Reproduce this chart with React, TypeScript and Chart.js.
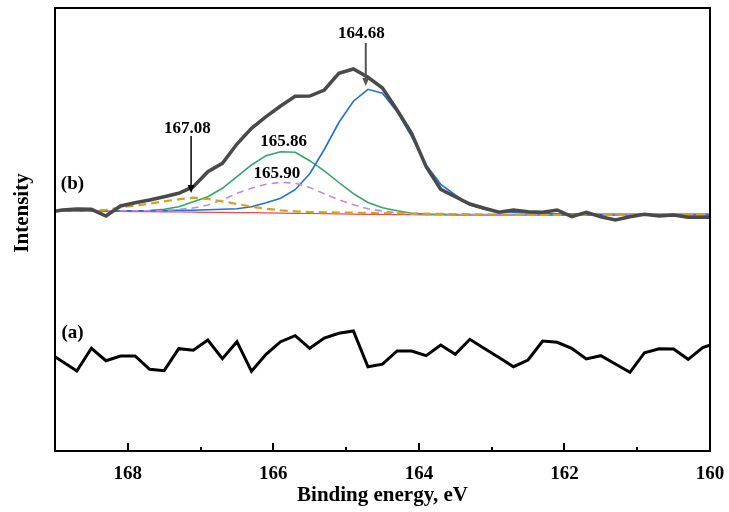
import React, { useEffect, useRef } from 'react';
import { Chart, registerables } from 'chart.js';

Chart.register(...registerables);

// ---------------- data ----------------
const ENERGY = [
  169.1, 168.9, 168.7, 168.5, 168.3, 168.1, 167.9, 167.7, 167.5, 167.3,
  167.1, 166.9, 166.7, 166.5, 166.3, 166.1, 165.9, 165.7, 165.5, 165.3,
  165.1, 164.9, 164.7, 164.5, 164.3, 164.1, 163.9, 163.7, 163.5, 163.3,
  163.1, 162.9, 162.7, 162.5, 162.3, 162.1, 161.9, 161.7, 161.5, 161.3,
  161.1, 160.9, 160.7, 160.5, 160.3, 160.1, 159.9,
];

// spectrum (a)
const SPECTRUM_A = [
  99, 89.5, 80, 102.7, 90.3, 95, 95, 81.7, 80.3, 102.3,
  100.7, 111, 92.3, 109.3, 79.7, 96.7, 109.3, 115.3, 102.7, 113,
  117.7, 120, 84.3, 86.8, 100, 100, 95.3, 106, 96.7, 111.7,
  102.6, 93.5, 84.3, 91, 110, 108.7, 102.7, 92, 95.3, 87,
  78.7, 98.3, 102.3, 102, 91.7, 103.3, 108.5,
];

// spectrum (b) envelope
const SPECTRUM_B = [
  238.5, 241, 242, 241.7, 235, 245, 248.3, 251, 254.3, 257.7,
  264.3, 279.3, 287.7, 307, 322.7, 334.3, 345, 354.7, 355, 361,
  377.7, 382, 373.7, 363, 341, 317.7, 284.3, 261.7, 254.3, 247,
  242.7, 238.7, 241, 239.3, 238.7, 241, 234.3, 238.7, 234.3, 231,
  234.3, 236.7, 235, 236, 233.7, 233.7, 233.7,
];

// fitted component at 164.68 eV
const PEAK_164_68 = [
  240.2, 240.2, 240.2, 240.2, 240.2, 240.2, 240.2, 240.3, 240.4, 240.6,
  240.8, 241.2, 241.7, 242.3, 244.3, 248.3, 252.7, 261.3, 277.3, 301.5,
  328.5, 349.8, 361.7, 357.7, 339.3, 314.3, 286, 266.7, 256, 246,
  241.7, 239.3, 238.7, 238, 237.5, 237.2, 237, 236.9, 236.8, 236.8,
  236.7, 236.7, 236.7, 236.7, 236.7, 236.7, 236.7,
];

// fitted component at 165.86 eV
const PEAK_165_86 = [
  240.2, 240.2, 240.2, 240.2, 240.2, 240.2, 240.2, 240.5, 241.7, 244.3,
  249.3, 254.3, 262.7, 274.3, 286, 295.3, 299.3, 298.7, 290.3, 280.2,
  268.5, 257.3, 248.5, 243.2, 240.2, 237.7, 237, 236.7, 236.5, 236.5,
  236.5, 236.5, 236.5, 236.4, 236.4, 236.4, 236.4, 236.4, 236.4, 236.4,
  236.4, 236.4, 236.4, 236.4, 236.4, 236.4, 236.4,
];

// fitted component at 165.90 eV (dashed)
const PEAK_165_90 = [
  240.2, 240.2, 240.2, 240.2, 240.2, 240.2, 240.2, 240.2, 240.3, 241.7,
  243, 246, 251, 257.7, 262.7, 266.7, 268.7, 267.8, 263.5, 257.2,
  251.3, 246.3, 242.2, 240, 238.2, 236.8, 236.5, 236.3, 236.3, 236.3,
  236.3, 236.3, 236.3, 236.3, 236.3, 236.3, 236.3, 236.3, 236.3, 236.3,
  236.3, 236.3, 236.3, 236.3, 236.3, 236.3, 236.3,
];

// fitted component at 167.08 eV (dashed)
const PEAK_167_08 = [
  239.7, 240.7, 241.3, 241, 241, 243.7, 245.3, 247.3, 249.7, 251.7,
  253.3, 252, 249.7, 247, 244.3, 242.3, 240.7, 239.7, 239, 238.7,
  238.5, 238.3, 238.1, 237.9, 237.7, 237.5, 237.3, 237.1, 236.9, 236.7,
  236.5, 236.4, 236.2, 236.2, 236.2, 236.2, 236.2, 236.2, 236.2, 236.2,
  236.2, 236.2, 236.2, 236.2, 236.2, 236.2, 236.2,
];

// background
const BACKGROUND = [
  240, 239.9, 239.8, 239.7, 239.6, 239.5, 239.4, 239.3, 239.1, 239.0,
  238.9, 238.7, 238.6, 238.4, 238.3, 238.1, 237.9, 237.7, 237.5, 237.3,
  237.1, 236.9, 236.7, 236.5, 236.4, 236.3, 236.1, 236.0, 235.9, 235.9,
  235.8, 235.8, 235.8, 235.8, 235.8, 235.7, 235.7, 235.7, 235.7, 235.7,
  235.7, 235.7, 235.7, 235.7, 235.7, 235.7, 235.7,
];

const X_MIN = 160;
const X_MAX = 169;
const Y_MIN = 0;
const Y_MAX = 443;

const X_TITLE = 'Binding energy, eV';
const Y_TITLE = 'Intensity';

const PEAK_TEXTS = ['164.68', '165.86', '165.90', '167.08'];
const CURVE_TEXTS = ['(a)', '(b)'];

// ---------------- styling ----------------
const FONT = "'Liberation Serif', 'Times New Roman', Times, serif";

const toXY = (arr: number[]) => ENERGY.map((e, i) => ({ x: e, y: arr[i] }));

const decorPlugin = {
  id: 'xpsDecor',
  afterDatasetsDraw(chart: any) {
    const { ctx, chartArea: a, scales } = chart;
    const x = scales.x;
    const y = scales.y;
    const px = (v: number) => x.getPixelForValue(v);
    const py = (v: number) => y.getPixelForValue(v);
    ctx.save();

    // frame
    ctx.strokeStyle = '#000';
    ctx.lineWidth = 2;
    ctx.strokeRect(a.left, a.top, a.right - a.left, a.bottom - a.top);

    // inward tick marks
    x.ticks.forEach((t: any) => {
      const v = t.value;
      if (v <= X_MIN || v >= X_MAX) return;
      const xp = Math.round(x.getPixelForValue(v));
      const len = Math.round(v) % 2 === 0 ? 8 : 4;
      ctx.beginPath();
      ctx.moveTo(xp, a.bottom);
      ctx.lineTo(xp, a.bottom - len);
      ctx.lineWidth = 2;
      ctx.stroke();
    });

    // y title
    ctx.save();
    ctx.translate(23, 213);
    ctx.rotate(-Math.PI / 2);
    ctx.fillStyle = '#000';
    ctx.font = `bold 21px ${FONT}`;
    ctx.textAlign = 'center';
    ctx.textBaseline = 'middle';
    ctx.fillText(Y_TITLE, 0, 0);
    ctx.restore();

    const text = (s: string, xv: number, yv: number, size: number) => {
      ctx.fillStyle = '#000';
      ctx.font = `bold ${size}px ${FONT}`;
      ctx.textAlign = 'center';
      ctx.textBaseline = 'middle';
      ctx.fillText(s, px(xv), py(yv));
    };
    const arrow = (xv: number, y1: number, y2: number, color: string, w: number) => {
      const xp = px(xv);
      const a1 = py(y1);
      const a2 = py(y2);
      ctx.strokeStyle = color;
      ctx.fillStyle = color;
      ctx.lineWidth = w;
      ctx.beginPath();
      ctx.moveTo(xp, a1);
      ctx.lineTo(xp, a2 - 7);
      ctx.stroke();
      ctx.beginPath();
      ctx.moveTo(xp - 3.5, a2 - 8);
      ctx.lineTo(xp + 3.5, a2 - 8);
      ctx.lineTo(xp, a2);
      ctx.closePath();
      ctx.fill();
    };

    text(PEAK_TEXTS[0], 164.79, 417, 17);
    arrow(164.73, 408, 365, '#555555', 2);
    text(PEAK_TEXTS[1], 165.86, 309.5, 17);
    text(PEAK_TEXTS[2], 165.95, 277, 17);
    text(PEAK_TEXTS[3], 167.18, 322.5, 17);
    arrow(167.13, 315, 258, '#000000', 1.5);

    text(CURVE_TEXTS[1], 168.76, 267, 19);
    text(CURVE_TEXTS[0], 168.76, 117.5, 19);

    ctx.restore();
  },
};

export default function App() {
  const ref = useRef<HTMLCanvasElement | null>(null);

  useEffect(() => {
    if (!ref.current) return;
    const line = (data: number[], color: string, width: number, dash: number[] = []) => ({
      data: toXY(data),
      borderColor: color,
      backgroundColor: color,
      borderWidth: width,
      borderDash: dash,
      pointRadius: 0,
      tension: 0,
      fill: false,
    });

    const chart = new Chart(ref.current, {
      type: 'line',
      data: {
        datasets: [
          line(SPECTRUM_B, '#4a4a4a', 3.5),
          line(SPECTRUM_A, '#000000', 3),
          line(PEAK_167_08, '#d6a11b', 2.2, [8, 5]),
          line(PEAK_165_90, '#b889f0', 1.6, [7, 5]),
          line(PEAK_164_68, '#1f70dc', 1.6),
          line(PEAK_165_86, '#2ea865', 1.6),
          line(BACKGROUND, '#f04848', 1.2),
        ] as any,
      },
      options: {
        responsive: false,
        animation: false,
        events: [],
        layout: { padding: { left: 55, top: 8, right: 19, bottom: 0 } },
        plugins: { legend: { display: false }, tooltip: { enabled: false } },
        scales: {
          x: {
            type: 'linear',
            reverse: true,
            min: X_MIN,
            max: X_MAX,
            grid: { display: false, drawTicks: false },
            border: { display: false },
            ticks: {
              stepSize: 1,
              autoSkip: false,
              maxRotation: 0,
              padding: 12,
              color: '#000',
              font: { family: FONT, size: 19, weight: 'bold' },
              callback: (v: any) => (Math.round(v) % 2 === 0 ? String(Math.round(v)) : ''),
            },
            title: {
              display: true,
              text: X_TITLE,
              color: '#000',
              font: { family: FONT, size: 21, weight: 'bold' },
              padding: { top: 0, bottom: 4 },
            },
            afterFit: (s: any) => {
              s.height = 61;
              s.paddingLeft = 0;
              s.paddingRight = 0;
            },
          },
          y: {
            type: 'linear',
            display: false,
            min: Y_MIN,
            max: Y_MAX,
          },
        },
      } as any,
      plugins: [decorPlugin],
    });
    return () => chart.destroy();
  }, []);

  return (
    <div style={{ position: 'fixed', left: 0, top: 0, width: 729, height: 512, background: '#fff' }}>
      <canvas ref={ref} width={729} height={512} style={{ display: 'block' }} />
    </div>
  );
}
